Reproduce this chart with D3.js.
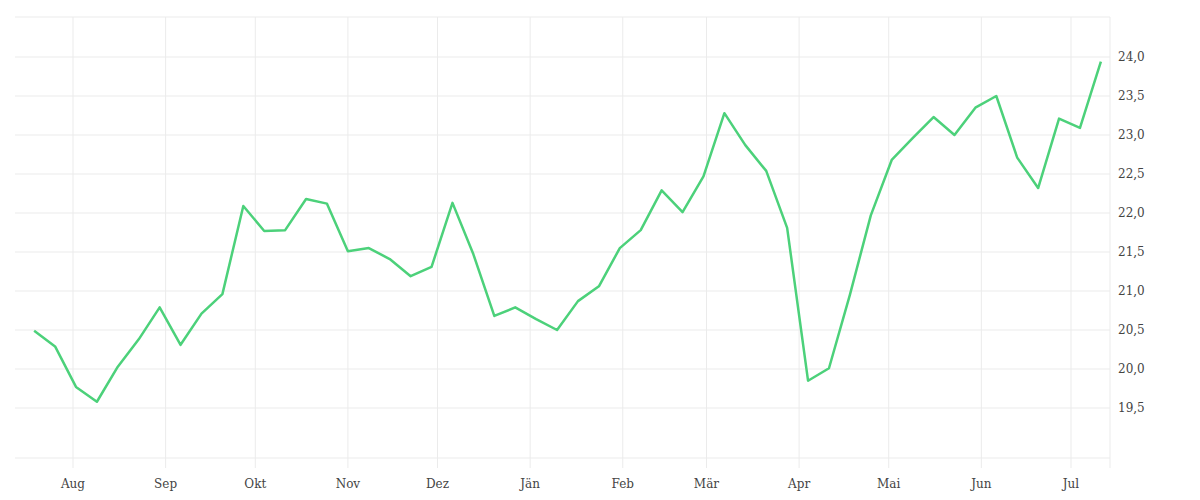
<!DOCTYPE html>
<html><head><meta charset="utf-8">
<script src="https://cdn.jsdelivr.net/npm/d3@7"></script>
<style>body{margin:0;background:#fff}svg text{font-family:"DejaVu Serif",serif;font-size:12px;fill:#444}</style>
</head><body><svg width="1200" height="500"></svg>
<script>
const startDate = "2021-07-19";
const values = [20.49,20.29,19.77,19.58,20.03,20.38,20.79,20.31,20.71,20.96,22.09,21.77,21.78,22.18,22.12,21.51,21.55,21.41,21.19,21.31,22.13,21.47,20.68,20.79,20.64,20.50,20.87,21.06,21.55,21.78,22.29,22.01,22.47,23.28,22.87,22.54,21.81,19.85,20.01,20.95,21.97,22.68,22.96,23.23,23.0,23.35,23.50,22.71,22.32,23.21,23.09,23.94];
const monthLabels = ["Aug","Sep","Okt","Nov","Dez","Jän","Feb","Mär","Apr","Mai","Jun","Jul"];
const yTicks = [19.5,20.0,20.5,21.0,21.5,22.0,22.5,23.0,23.5,24.0];

const svg = d3.select("svg");
const t0 = new Date(startDate+"T00:00:00");
const data = values.map((v,i)=>({d:d3.timeDay.offset(t0,i*7), v}));
const x = d3.scaleTime().domain([new Date("2021-08-01T00:00:00"), new Date("2022-07-01T00:00:00")]).range([73,1071]);
const y = d3.scaleLinear().domain([19.5,24.0]).range([408,57]);
const pL=15,pR=1110,pT=17,pB=458;
const g = svg.append("g");
const months = d3.timeMonth.range(new Date("2021-08-01T00:00:00"), new Date("2022-07-02T00:00:00"));
g.selectAll(".vg").data(months).join("line").attr("x1",d=>x(d)).attr("x2",d=>x(d)).attr("y1",pT).attr("y2",468).attr("stroke","#ebebeb");
g.selectAll(".hg").data(yTicks).join("line").attr("x1",pL).attr("x2",pR).attr("y1",d=>y(d)).attr("y2",d=>y(d)).attr("stroke","#ebebeb");
g.append("line").attr("x1",pL).attr("x2",pR).attr("y1",pT).attr("y2",pT).attr("stroke","#ebebeb");
g.append("line").attr("x1",pL).attr("x2",pR).attr("y1",pB).attr("y2",pB).attr("stroke","#ebebeb");
g.append("line").attr("x1",pR).attr("x2",pR).attr("y1",pT).attr("y2",468).attr("stroke","#ebebeb");
g.selectAll(".ml").data(months).join("text").attr("x",d=>x(d)).attr("y",488).attr("text-anchor","middle").text((d,i)=>monthLabels[i]);
g.selectAll(".yl").data(yTicks).join("text").attr("x",1118).attr("y",d=>y(d)+4).text(d=>d.toFixed(1).replace(".",","));
g.append("path").datum(data).attr("fill","none").attr("stroke","#4cd17a").attr("stroke-width",2.5).attr("stroke-linejoin","round")
 .attr("d",d3.line().x(d=>x(d.d)).y(d=>y(d.v)));
</script></body></html>
